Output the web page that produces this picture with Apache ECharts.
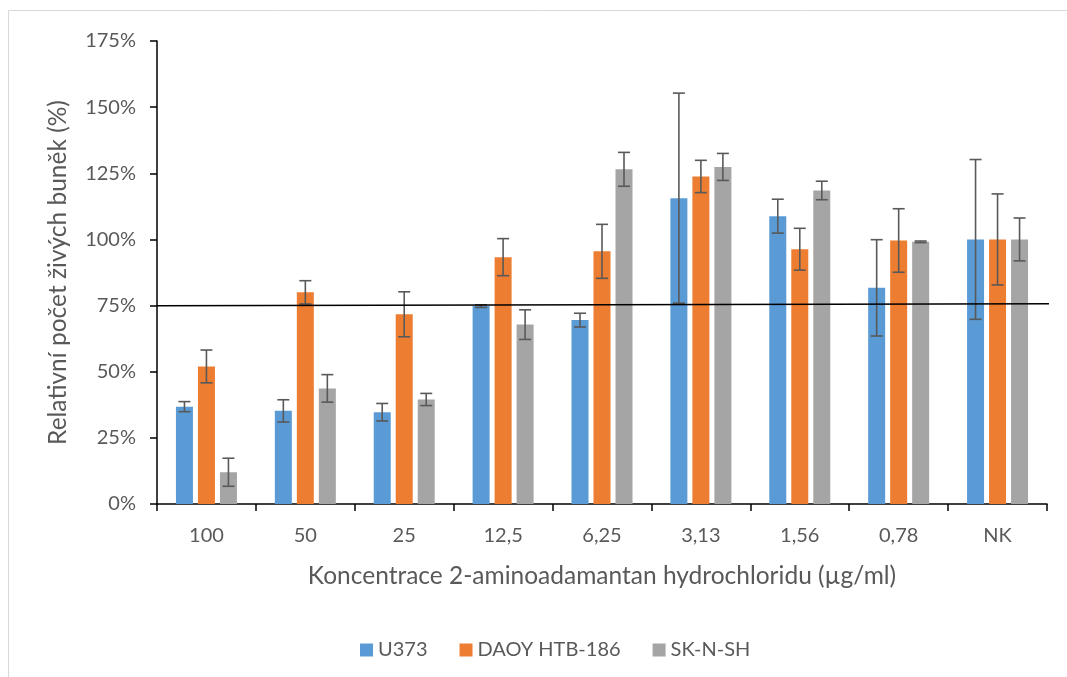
<!DOCTYPE html>
<html>
<head>
<meta charset="utf-8">
<script src="https://cdn.jsdelivr.net/npm/echarts@6/dist/echarts.min.js"></script>
<style>
  html, body { margin: 0; padding: 0; background: #fff; }
  #chart { width: 1067px; height: 677px; }
</style>
</head>
<body>
<div id="chart"></div>
<script>
// Concentrations of 2-aminoadamantane hydrochloride (µg/ml), NK = negative control
const categories = ['100', '50', '25', '12,5', '6,25', '3,13', '1,56', '0,78', 'NK'];

// Relative viable cell count (%) per cell line
const u373   = [36.8, 35.2, 34.7, 74.8, 69.5, 115.6, 108.8, 81.7, 100];
const daoy   = [52.0, 80.0, 71.7, 93.3, 95.5, 123.8, 96.3, 99.6, 100];
const sknsh  = [12.0, 43.7, 39.5, 67.8, 126.5, 127.4, 118.5, 99.1, 100];

// Standard deviations (%)
const u373Err  = [1.9, 4.2, 3.3, 0.5, 2.6, 39.7, 6.4, 18.2, 30.2];
const daoyErr  = [6.2, 4.4, 8.5, 7.0, 10.2, 6.1, 7.9, 12.0, 17.2];
const sknshErr = [5.3, 5.2, 2.3, 5.6, 6.4, 5.1, 3.5, 0.3, 8.1];

// 75 % threshold line, drawn across the plot on a hidden 0..1 axis
const thresholdX = [0, 1.004];
const thresholdY = [74.9, 75.7];

const seriesNames = ['U373', 'DAOY HTB-186', 'SK-N-SH'];
const colors = ['#5B9BD5', '#ED7D31', '#A5A5A5'];

const BAR_W = 17;
const BAR_GAP = 5;

const FONT = 'Lato';
const TEXT_COLOR = '#595959';
const chart = echarts.init(document.getElementById('chart'));

// Vertical error bar with caps, shifted to sit on the matching bar of a group
function errorSeries(idx, values, errs) {
  const offset = (idx - 1) * (BAR_W + BAR_GAP);
  return {
    type: 'custom',
    name: seriesNames[idx] + ' err',
    xAxisIndex: 0,
    yAxisIndex: 0,
    z: 5,
    silent: true,
    data: values.map((v, i) => [i, v - errs[i], v + errs[i]]),
    encode: { x: 0, y: [1, 2] },
    renderItem: function (params, api) {
      const lo = api.coord([api.value(0), api.value(1)]);
      const hi = api.coord([api.value(0), api.value(2)]);
      const x = lo[0] + offset;
      const half = 6;
      const style = { stroke: '#595959', lineWidth: 1.6, fill: null };
      return {
        type: 'group',
        children: [
          { type: 'line', shape: { x1: x, y1: lo[1], x2: x, y2: hi[1] }, style },
          { type: 'line', shape: { x1: x - half, y1: lo[1], x2: x + half, y2: lo[1] }, style },
          { type: 'line', shape: { x1: x - half, y1: hi[1], x2: x + half, y2: hi[1] }, style }
        ]
      };
    }
  };
}

const barSeries = [u373, daoy, sknsh].map((vals, i) => ({
  type: 'bar',
  name: seriesNames[i],
  data: vals,
  barWidth: BAR_W,
  barGap: (BAR_GAP / BAR_W * 100) + '%',
  itemStyle: { color: colors[i] },
  emphasis: { disabled: true }
}));

const option = {
  animation: false,
  backgroundColor: '#fff',
  graphic: [{
    type: 'rect',
    shape: { x: 8.5, y: 10.5, width: 1080, height: 700 },
    style: { fill: null, stroke: '#D9D9D9', lineWidth: 1 },
    silent: true,
    z: -10
  }],
  grid: { left: 157, right: 20, top: 41, bottom: 173 },
  legend: {
    data: seriesNames,
    left: 355,
    top: 635,
    itemWidth: 13,
    itemHeight: 13,
    itemGap: 32,
    icon: 'rect',
    textStyle: { fontFamily: FONT, fontSize: 20, color: TEXT_COLOR }
  },
  xAxis: [{
    type: 'category',
    data: categories,
    axisLine: { lineStyle: { color: '#000', width: 1.5 } },
    axisTick: { show: true, length: 7, lineStyle: { color: '#000', width: 1.5 } },
    axisLabel: { fontFamily: FONT, fontSize: 20, color: TEXT_COLOR, margin: 22 },
    name: 'Koncentrace 2-aminoadamantan hydrochloridu (µg/ml)',
    nameLocation: 'middle',
    nameGap: 60,
    nameTextStyle: { fontFamily: FONT, fontSize: 24.5, color: TEXT_COLOR }
  }, {
    type: 'value',
    min: 0,
    max: 1,
    show: false
  }],
  yAxis: {
    type: 'value',
    min: 0,
    max: 175,
    interval: 25,
    splitLine: { show: false },
    axisLine: { show: true, lineStyle: { color: '#000', width: 1.5 } },
    axisTick: { show: true, length: 7, lineStyle: { color: '#000', width: 1.5 } },
    axisLabel: { fontFamily: FONT, fontSize: 20, color: TEXT_COLOR, margin: 21, formatter: '{value}%' },
    name: 'Relativní počet živých buněk (%)',
    nameLocation: 'middle',
    nameGap: 86,
    nameTextStyle: { fontFamily: FONT, fontSize: 24.5, color: TEXT_COLOR }
  },
  series: [
    ...barSeries,
    errorSeries(0, u373, u373Err),
    errorSeries(1, daoy, daoyErr),
    errorSeries(2, sknsh, sknshErr),
    {
      type: 'line',
      name: 'threshold',
      xAxisIndex: 1,
      yAxisIndex: 0,
      data: thresholdX.map((x, i) => [x, thresholdY[i]]),
      symbol: 'none',
      clip: false,
      silent: true,
      z: 10,
      lineStyle: { color: '#000', width: 1.5 }
    }
  ]
};

chart.setOption(option);
</script>
</body>
</html>
